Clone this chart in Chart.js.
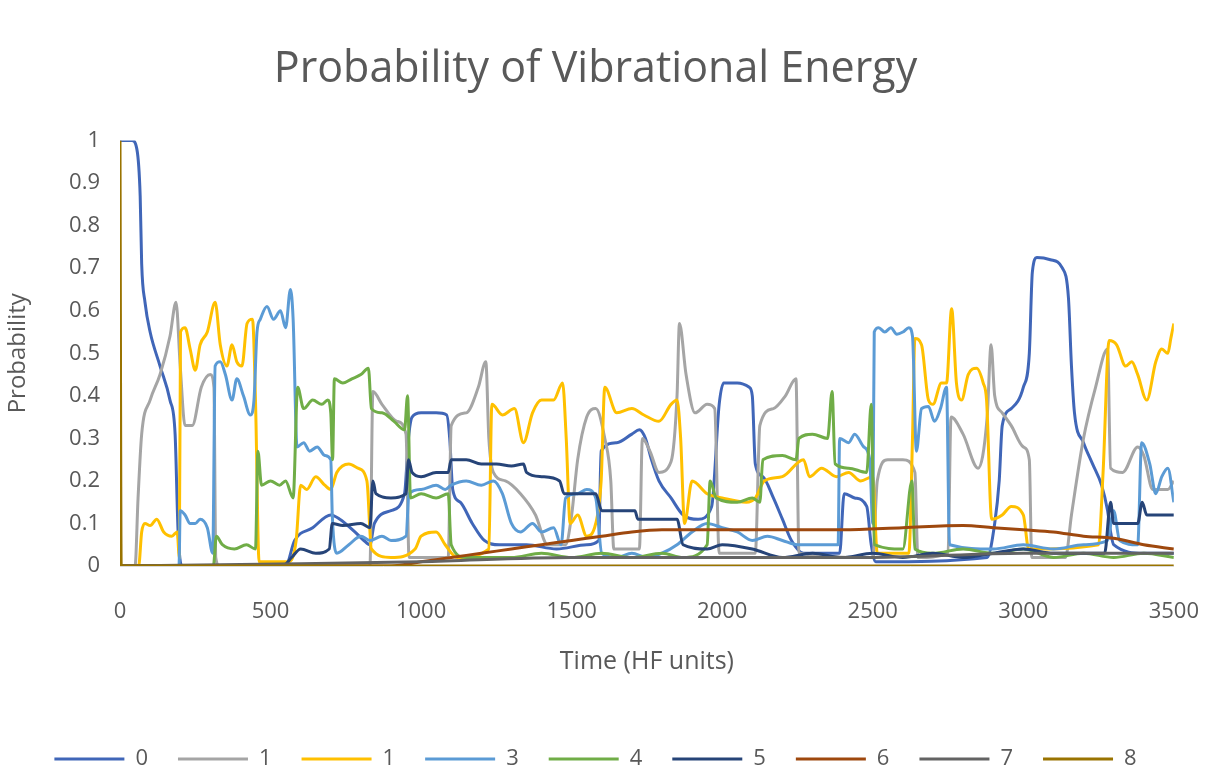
<!DOCTYPE html>
<html>
<head>
<meta charset="utf-8">
<title>Probability of Vibrational Energy</title>
<script src="https://cdn.jsdelivr.net/npm/chart.js@4.4.1/dist/chart.umd.min.js"></script>
<style>
  html, body { margin: 0; padding: 0; background: #fff; }
</style>
</head>
<body>
<canvas id="chart" width="1211" height="769"></canvas>
<script>
// legend names as they appear in the original (the second "1" is kept as is)
const levelNames = ["0", "1", "1", "3", "4", "5", "6", "7", "8"];

// [time (HF units), probability]
const level0 = [[0,1],[40,1],[56,0.98],[67,0.87],[72,0.71],[83,0.62],[100,0.55],[133,0.47],[166,0.39],[183,0.31],[193,0.08],[205,0],[550,0],[580,0.06],[640,0.09],[700,0.12],[730,0.11],[780,0.08],[810,0.06],[830,0.05],[845,0.1],[900,0.13],[945,0.17],[958,0.3],[970,0.35],[1000,0.36],[1050,0.36],[1085,0.355],[1095,0.3],[1105,0.18],[1130,0.15],[1170,0.1],[1210,0.06],[1260,0.05],[1350,0.05],[1450,0.04],[1550,0.05],[1590,0.06],[1598,0.27],[1650,0.29],[1700,0.31],[1725,0.32],[1745,0.3],[1765,0.25],[1790,0.2],[1830,0.16],[1870,0.12],[1920,0.11],[1965,0.14],[1990,0.38],[2005,0.43],[2050,0.43],[2090,0.42],[2100,0.4],[2110,0.24],[2135,0.21],[2170,0.16],[2200,0.11],[2230,0.06],[2270,0.03],[2390,0.03],[2405,0.17],[2440,0.16],[2480,0.14],[2495,0.05],[2510,0.01],[2880,0.02],[2905,0.1],[2920,0.2],[2930,0.33],[2960,0.37],[3000,0.42],[3020,0.5],[3030,0.69],[3045,0.725],[3090,0.72],[3130,0.7],[3150,0.63],[3160,0.47],[3170,0.36],[3200,0.29],[3230,0.24],[3260,0.19],[3280,0.13],[3290,0.08],[3300,0.05],[3400,0.03],[3500,0.03]];

const level1 = [[0,0],[50,0],[60,0.16],[72,0.31],[100,0.39],[133,0.45],[166,0.54],[186,0.62],[200,0.47],[216,0.33],[240,0.33],[270,0.42],[300,0.45],[312,0.42],[318,0.02],[330,0],[830,0],[840,0.41],[870,0.38],[920,0.34],[950,0.31],[960,0.02],[1090,0.02],[1100,0.33],[1150,0.36],[1190,0.42],[1215,0.48],[1225,0.3],[1240,0.22],[1280,0.2],[1330,0.17],[1380,0.12],[1420,0.05],[1480,0.05],[1500,0.12],[1520,0.25],[1550,0.35],[1580,0.37],[1610,0.3],[1630,0.2],[1640,0.04],[1725,0.04],[1735,0.3],[1760,0.27],[1790,0.22],[1830,0.245],[1850,0.4],[1858,0.57],[1880,0.45],[1910,0.36],[1950,0.38],[1975,0.37],[1990,0.03],[2110,0.03],[2125,0.33],[2170,0.37],[2210,0.4],[2245,0.44],[2255,0.03],[2500,0.02],[2515,0.2],[2550,0.25],[2600,0.25],[2640,0.22],[2650,0.02],[2750,0.03],[2760,0.35],[2800,0.31],[2850,0.23],[2880,0.35],[2893,0.52],[2905,0.4],[2930,0.36],[2960,0.33],[3000,0.28],[3020,0.25],[3028,0.02],[3140,0.02],[3160,0.12],[3200,0.3],[3240,0.42],[3280,0.51],[3290,0.23],[3330,0.22],[3380,0.28],[3400,0.26],[3430,0.18],[3480,0.18],[3500,0.2]];

const level1b = [[0,0],[62,0],[72,0.08],[83,0.1],[100,0.095],[122,0.11],[145,0.08],[172,0.07],[190,0.08],[197,0.02],[201,0.55],[216,0.56],[233,0.51],[250,0.46],[266,0.52],[290,0.55],[316,0.62],[333,0.52],[355,0.47],[372,0.52],[388,0.48],[405,0.47],[422,0.57],[440,0.58],[450,0.39],[462,0.01],[560,0.01],[585,0.06],[600,0.19],[620,0.18],[650,0.21],[680,0.19],[700,0.18],[720,0.22],[760,0.24],[790,0.23],[820,0.2],[835,0.04],[900,0.02],[980,0.04],[1000,0.07],[1050,0.08],[1080,0.05],[1120,0.02],[1225,0.04],[1235,0.38],[1270,0.355],[1310,0.37],[1340,0.29],[1370,0.36],[1400,0.39],[1440,0.39],[1470,0.43],[1482,0.3],[1495,0.1],[1520,0.12],[1550,0.07],[1580,0.1],[1598,0.2],[1610,0.42],[1650,0.36],[1700,0.37],[1740,0.355],[1790,0.34],[1830,0.38],[1850,0.39],[1862,0.3],[1875,0.1],[1900,0.2],[1950,0.17],[2000,0.16],[2080,0.15],[2110,0.16],[2140,0.2],[2200,0.21],[2270,0.25],[2290,0.21],[2330,0.23],[2380,0.21],[2420,0.22],[2460,0.2],[2500,0.21],[2515,0.03],[2620,0.03],[2632,0.3],[2640,0.535],[2662,0.52],[2685,0.39],[2700,0.38],[2728,0.43],[2745,0.43],[2762,0.605],[2778,0.43],[2795,0.39],[2817,0.45],[2845,0.465],[2867,0.43],[2878,0.39],[2895,0.11],[2930,0.12],[2960,0.14],[3000,0.12],[3018,0.04],[3250,0.05],[3265,0.22],[3285,0.53],[3310,0.52],[3340,0.47],[3360,0.48],[3380,0.45],[3410,0.39],[3440,0.48],[3460,0.51],[3480,0.5],[3490,0.535],[3500,0.57]];

const level3 = [[0,0],[196,0],[200,0.13],[216,0.12],[233,0.1],[250,0.1],[266,0.11],[290,0.09],[308,0.03],[316,0.47],[333,0.48],[350,0.45],[372,0.39],[388,0.44],[410,0.4],[433,0.355],[445,0.39],[455,0.55],[466,0.58],[488,0.61],[510,0.58],[533,0.6],[550,0.56],[566,0.65],[575,0.58],[588,0.28],[610,0.29],[630,0.27],[655,0.28],[680,0.26],[700,0.25],[705,0.12],[720,0.03],[760,0.05],[800,0.07],[830,0.06],[870,0.07],[900,0.06],[950,0.07],[960,0.17],[1000,0.18],[1050,0.19],[1080,0.18],[1100,0.19],[1150,0.2],[1200,0.19],[1240,0.2],[1270,0.17],[1300,0.1],[1330,0.08],[1370,0.1],[1400,0.08],[1440,0.09],[1465,0.05],[1480,0.16],[1520,0.17],[1550,0.18],[1580,0.16],[1600,0.03],[1650,0.02],[1700,0.03],[1750,0.02],[1800,0.03],[1850,0.05],[1900,0.08],[1950,0.1],[2000,0.09],[2050,0.08],[2100,0.06],[2150,0.07],[2200,0.06],[2250,0.05],[2385,0.05],[2390,0.3],[2420,0.29],[2440,0.31],[2470,0.28],[2490,0.25],[2500,0.1],[2505,0.55],[2520,0.56],[2540,0.55],[2560,0.56],[2580,0.545],[2600,0.55],[2620,0.56],[2632,0.54],[2645,0.27],[2662,0.37],[2685,0.375],[2705,0.34],[2725,0.37],[2745,0.42],[2755,0.05],[2900,0.04],[3000,0.05],[3100,0.04],[3200,0.05],[3280,0.06],[3300,0.13],[3320,0.06],[3380,0.05],[3393,0.29],[3420,0.24],[3440,0.17],[3460,0.21],[3480,0.23],[3500,0.15]];

const level4 = [[0,0],[310,0],[320,0.07],[340,0.05],[380,0.04],[420,0.05],[450,0.04],[458,0.27],[470,0.19],[500,0.2],[530,0.19],[550,0.2],[575,0.16],[590,0.42],[610,0.37],[640,0.39],[670,0.38],[690,0.39],[700,0.36],[706,0.25],[712,0.44],[740,0.43],[770,0.44],[800,0.45],[825,0.465],[835,0.37],[870,0.36],[910,0.34],[945,0.32],[955,0.4],[965,0.16],[1000,0.17],[1050,0.16],[1090,0.17],[1100,0.05],[1150,0.02],[1300,0.02],[1400,0.03],[1500,0.02],[1600,0.03],[1700,0.02],[1800,0.03],[1870,0.02],[1950,0.05],[1960,0.2],[1980,0.16],[2050,0.15],[2100,0.16],[2125,0.15],[2135,0.25],[2200,0.26],[2245,0.25],[2255,0.3],[2300,0.31],[2350,0.3],[2365,0.41],[2375,0.24],[2420,0.23],[2480,0.22],[2495,0.38],[2505,0.05],[2600,0.04],[2630,0.2],[2640,0.04],[2700,0.03],[2800,0.04],[2900,0.03],[3000,0.04],[3100,0.02],[3200,0.03],[3300,0.02],[3400,0.03],[3500,0.02]];

const level5 = [[0,0],[540,0],[570,0.02],[600,0.04],[650,0.03],[695,0.04],[705,0.1],[740,0.095],[800,0.1],[830,0.09],[840,0.2],[850,0.17],[900,0.16],[950,0.17],[958,0.25],[970,0.22],[1000,0.21],[1050,0.22],[1090,0.22],[1100,0.25],[1150,0.25],[1200,0.24],[1250,0.24],[1300,0.235],[1340,0.24],[1350,0.22],[1400,0.21],[1460,0.2],[1475,0.17],[1520,0.17],[1580,0.17],[1600,0.13],[1650,0.13],[1710,0.13],[1720,0.11],[1780,0.11],[1850,0.11],[1870,0.05],[1950,0.04],[2000,0.05],[2100,0.04],[2200,0.02],[2300,0.03],[2400,0.02],[2500,0.03],[2600,0.02],[2700,0.03],[2800,0.02],[2900,0.03],[3000,0.04],[3100,0.03],[3200,0.03],[3270,0.03],[3290,0.15],[3300,0.1],[3380,0.1],[3395,0.15],[3410,0.12],[3500,0.12]];

const level6 = [[0,0],[900,0],[1000,0.01],[1100,0.02],[1200,0.03],[1300,0.04],[1400,0.05],[1500,0.06],[1600,0.07],[1700,0.08],[1800,0.085],[1900,0.085],[2000,0.085],[2200,0.085],[2400,0.085],[2600,0.09],[2800,0.095],[2900,0.09],[3000,0.085],[3100,0.08],[3200,0.07],[3300,0.065],[3400,0.05],[3500,0.04]];

const level7 = [[0,0],[600,0.005],[1000,0.01],[1500,0.02],[2000,0.02],[2500,0.02],[3000,0.03],[3500,0.03]];

const level8 = [[0,1],[4,0],[3500,0]];

const allLevels = [level0, level1, level1b, level3, level4, level5, level6, level7, level8];
const colors = ["#4066B8", "#A5A5A5", "#FFC000", "#5B9BD5", "#70AD47", "#264478", "#9E480E", "#636363", "#997300"];

Chart.defaults.font.family = "'Open Sans', sans-serif";
Chart.defaults.color = "#595959";

const datasets = allLevels.map((pts, i) => ({
  label: levelNames[i],
  data: pts.map(p => ({ x: p[0], y: p[1] })),
  borderColor: colors[i],
  backgroundColor: colors[i],
  borderWidth: 3,
  pointRadius: 0,
  cubicInterpolationMode: "monotone",
  order: levelNames.length - i   // later series drawn on top, like the original
}));

new Chart(document.getElementById("chart"), {
  type: "line",
  data: { datasets: datasets },
  options: {
    responsive: false,
    animation: false,
    layout: { padding: { left: 0, right: 20, top: 0, bottom: -11 } },
    plugins: {
      title: {
        display: true,
        text: "Probability of Vibrational Energy",
        font: { size: 43, weight: "normal" },
        color: "#595959",
        padding: { top: 44, bottom: 45 }
      },
      legend: {
        position: "bottom",
        labels: {
          boxWidth: 70,
          boxHeight: 3,
          padding: 30,
          font: { size: 22 },
          color: "#595959",
          sort: (a, b) => a.datasetIndex - b.datasetIndex,
          generateLabels: (chart) => {
            const items = Chart.defaults.plugins.legend.labels.generateLabels(chart);
            items.forEach(it => { it.lineWidth = 0; });
            return items;
          }
        }
      },
      tooltip: { enabled: false }
    },
    scales: {
      x: {
        type: "linear",
        min: 0,
        max: 3500,
        grid: { display: false, drawTicks: false },
        border: { display: true, color: "#D9D9D9", width: 1 },
        ticks: {
          // small padding keeps the right edge at 3500; the tall line height pushes labels down
          stepSize: 500, autoSkip: false, maxRotation: 0, padding: 12,
          font: { size: 22, lineHeight: 3.1 },
          callback: (v) => String(v)
        },
        title: { display: true, text: "Time (HF units)", font: { size: 25 }, padding: { top: 0, bottom: 41 } },
        afterFit: (scale) => { scale.height = 152; }
      },
      y: {
        min: 0,
        max: 1,
        grid: { display: false, drawTicks: false },
        border: { display: false },
        ticks: {
          stepSize: 0.1, padding: 20, font: { size: 22 },
          callback: (v) => String(Number(v.toFixed(1)))
        },
        title: { display: true, text: "Probability", font: { size: 24 }, padding: { top: 4, bottom: 0 } },
        afterFit: (scale) => { scale.width = 120; }
      }
    }
  }
});
</script>
</body>
</html>
